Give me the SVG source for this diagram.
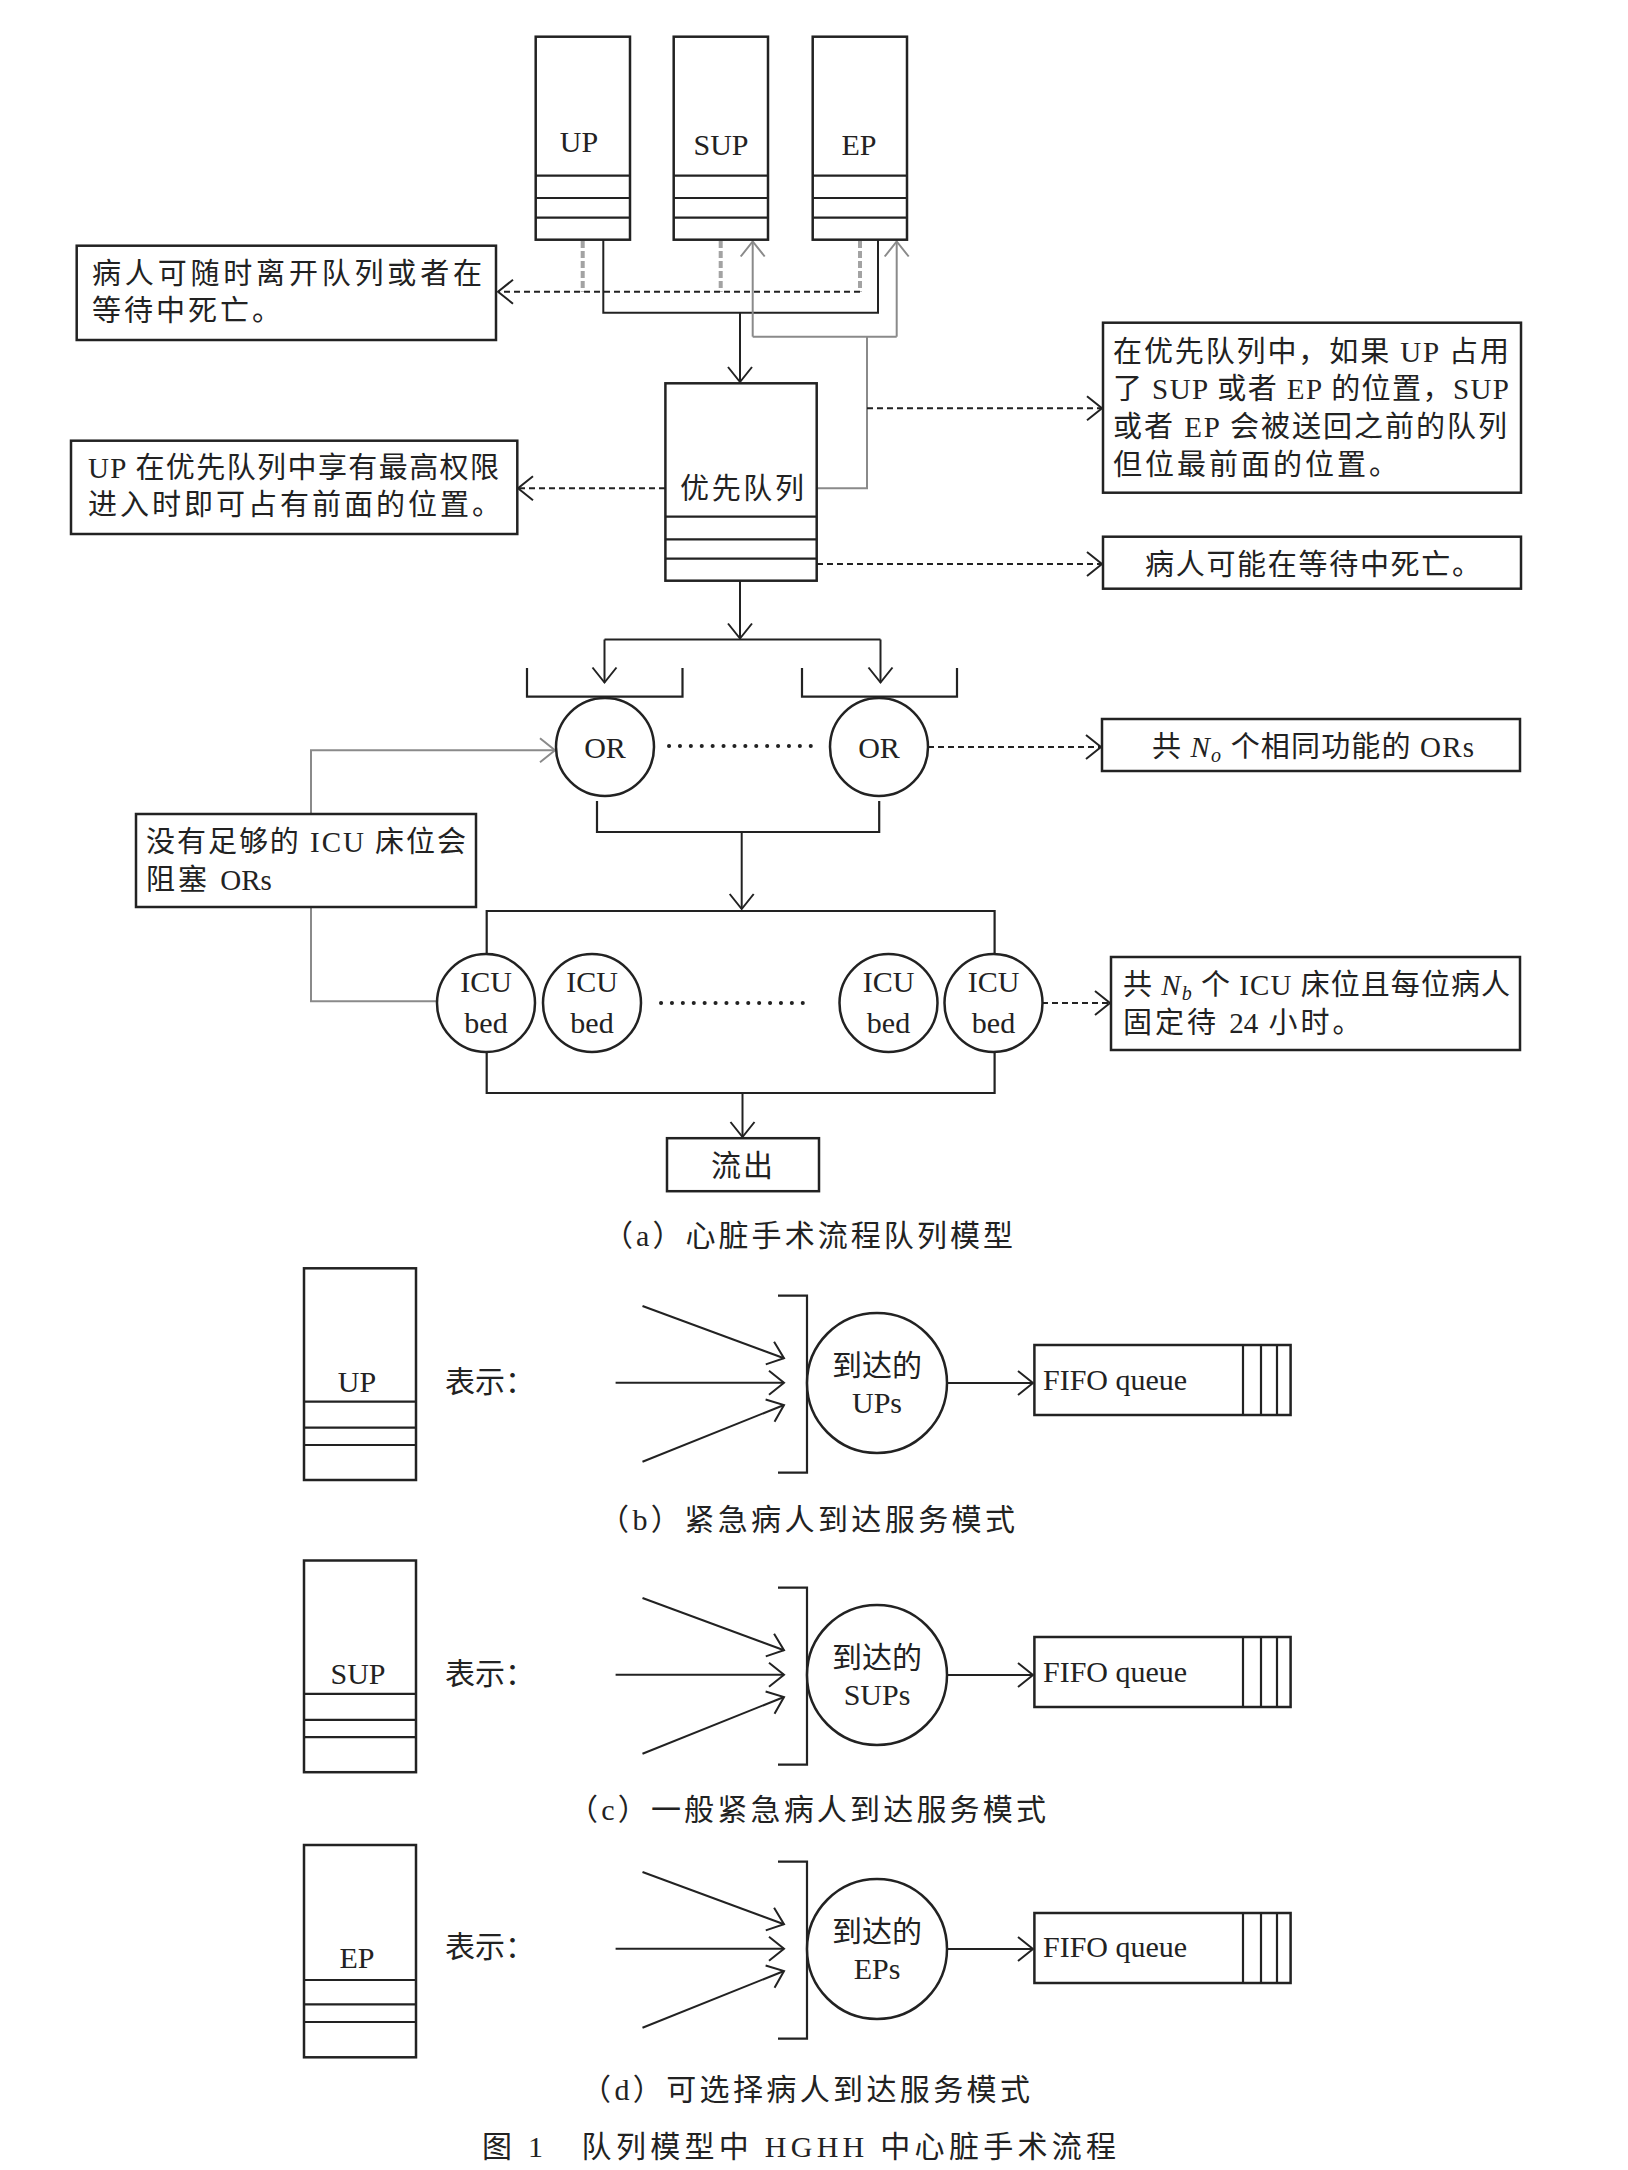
<svg xmlns="http://www.w3.org/2000/svg" width="1628" height="2170" viewBox="0 0 1628 2170">
<style>
text{font-family:'Liberation Serif','Noto Sans CJK SC',serif;fill:#222;}
.t{font-size:29px;letter-spacing:3px;}
.tl{font-size:29px;}
.n{font-size:30px;text-anchor:middle;}
.c{font-size:30px;}
.box{fill:#fff;stroke:#222;stroke-width:2.5;}
.ln{fill:none;stroke:#222;stroke-width:2.2;}
.sl{fill:none;stroke:#222;stroke-width:2;}
.ds{fill:none;stroke:#222;stroke-width:2;stroke-dasharray:6 4;}
.gd{fill:none;stroke:#a3a3a3;stroke-width:4;stroke-dasharray:7 3;}
.gs{fill:none;stroke:#8a8a8a;stroke-width:2;}
.dot{fill:none;stroke:#222;stroke-width:4;stroke-linecap:round;stroke-dasharray:0.1 10.8;}
.lat{letter-spacing:0;}
</style>
<defs>
<marker id="ah" viewBox="-17 -14 19 28" refX="0" refY="0" markerWidth="19" markerHeight="28" markerUnits="userSpaceOnUse" orient="auto"><path d="M-15,-12 L0,0 L-15,12" fill="none" stroke="#222" stroke-width="2"/></marker>
<marker id="ahg" viewBox="-17 -14 19 28" refX="0" refY="0" markerWidth="19" markerHeight="28" markerUnits="userSpaceOnUse" orient="auto"><path d="M-15,-12 L0,0 L-15,12" fill="none" stroke="#8a8a8a" stroke-width="2"/></marker>
</defs>

<!-- connectors -->
<g id="connectors">
  <path class="gd" d="M582.7 241V291.7M720.7 241V291.7M860 241V291.7"/>
  <path class="ds" d="M860 291.7H498" marker-end="url(#ah)"/>
  <path class="sl" d="M603.3 240V312.7H878V240"/>
  <path class="sl" d="M740 312.7V382" marker-end="url(#ah)"/>
  <path class="gs" d="M817 488.3H867V336.7"/>
  <path class="gs" d="M752.7 336.7H896.7"/>
  <path class="gs" d="M752.7 336.7V241.5" marker-end="url(#ahg)"/>
  <path class="gs" d="M896.7 336.7V241.5" marker-end="url(#ahg)"/>
  <path class="ds" d="M867 408.3H1102" marker-end="url(#ah)"/>
  <path class="ds" d="M665 488.3H518" marker-end="url(#ah)"/>
  <path class="ds" d="M817 564H1102" marker-end="url(#ah)"/>
  <path class="sl" d="M740 581V638.5" marker-end="url(#ah)"/>
  <path class="sl" d="M604.5 639.5H880.5"/>
  <path class="sl" d="M604.5 639.5V682.5" marker-end="url(#ah)"/>
  <path class="sl" d="M880.5 639.5V682.5" marker-end="url(#ah)"/>
  <path class="ln" d="M527 668V696.7H682.5V668"/>
  <path class="ln" d="M802 668V696.7H957V668"/>
  <path class="dot" d="M669 746H815"/>
  <path class="ds" d="M928 747H1101" marker-end="url(#ah)"/>
  <path class="ln" d="M597 801V832H879.2V801"/>
  <path class="sl" d="M741.7 832V909" marker-end="url(#ah)"/>
  <path class="ln" d="M486.7 953V911H994.6V953"/>
  <path class="dot" d="M661 1003H806"/>
  <path class="ds" d="M1042 1003H1110" marker-end="url(#ah)"/>
  <path class="ln" d="M486.7 1053V1093H994.6V1053"/>
  <path class="sl" d="M742.5 1093V1137" marker-end="url(#ah)"/>
  <path class="gs" d="M311 813V750.2H555" marker-end="url(#ahg)"/>
  <path class="gs" d="M311 907V1001.3H437.5"/>
</g>

<g id="queue-UP">
  <rect class="box" x="535.7" y="36.7" width="94.3" height="203"/>
  <path class="ln" d="M535.7 175.7H630M535.7 198H630M535.7 217.7H630"/>
  <text class="n" x="579" y="152">UP</text>
</g>
<g id="queue-SUP">
  <rect class="box" x="673.7" y="36.7" width="94.3" height="203"/>
  <path class="ln" d="M673.7 175.7H768M673.7 198H768M673.7 217.7H768"/>
  <text class="n" x="721" y="155">SUP</text>
</g>
<g id="queue-EP">
  <rect class="box" x="812.7" y="36.7" width="94.3" height="203"/>
  <path class="ln" d="M812.7 175.7H907M812.7 198H907M812.7 217.7H907"/>
  <text class="n" x="859" y="155">EP</text>
</g>

<g id="note-leave">
  <rect class="box" x="76.7" y="245.7" width="419.3" height="94.3"/>
  <text class="tl" x="92" y="284" textLength="390" lengthAdjust="spacing">病人可随时离开队列或者在</text>
  <text class="t" x="92" y="321">等待中死亡。</text>
</g>

<g id="priority-queue">
  <rect class="box" x="665.4" y="383.3" width="151.3" height="197.4"/>
  <path class="ln" d="M665.4 516.7H816.7M665.4 539.3H816.7M665.4 558.7H816.7"/>
  <text class="tl" x="680" y="499" textLength="124" lengthAdjust="spacing">优先队列</text>
</g>

<g id="note-up-priority">
  <rect class="box" x="71" y="440.7" width="446.3" height="93.3"/>
  <text class="tl" x="88" y="478" textLength="411" lengthAdjust="spacing">UP 在优先队列中享有最高权限</text>
  <text class="t" x="88" y="515">进入时即可占有前面的位置。</text>
</g>

<g id="note-return">
  <rect class="box" x="1103" y="322.7" width="418" height="170"/>
  <text class="tl" x="1113" y="362" textLength="396" lengthAdjust="spacing">在优先队列中，如果 UP 占用</text>
  <text class="tl" x="1113" y="399" textLength="396" lengthAdjust="spacing">了 SUP 或者 EP 的位置，SUP</text>
  <text class="tl" x="1113" y="437" textLength="394" lengthAdjust="spacing">或者 EP 会被送回之前的队列</text>
  <text class="t" x="1113" y="475">但位最前面的位置。</text>
</g>

<g id="note-die">
  <rect class="box" x="1103" y="536.7" width="418" height="52"/>
  <text class="tl" x="1145" y="575" textLength="336" lengthAdjust="spacing">病人可能在等待中死亡。</text>
</g>

<g id="OR-1">
  <circle class="box" cx="605" cy="747" r="49"/>
  <text class="n" x="605" y="757.5">OR</text>
</g>
<g id="OR-2">
  <circle class="box" cx="879" cy="747" r="49"/>
  <text class="n" x="879" y="757.5">OR</text>
</g>

<g id="note-ORs">
  <rect class="box" x="1102" y="719" width="418" height="52"/>
  <text class="tl" x="1152" y="757" textLength="322" lengthAdjust="spacing">共 <tspan font-style="italic">N</tspan><tspan font-style="italic" font-size="20" dy="5">o</tspan><tspan dy="-5"> 个相同功能的 ORs</tspan></text>
</g>

<g id="note-block">
  <rect class="box" x="136" y="814" width="340" height="93"/>
  <text class="tl" x="146" y="852" textLength="320" lengthAdjust="spacing">没有足够的 ICU 床位会</text>
  <text class="t" x="146" y="890">阻塞 <tspan class="lat">ORs</tspan></text>
</g>

<g id="ICU-1">
  <circle class="box" cx="486" cy="1003" r="49"/>
  <text class="n" x="486" y="992">ICU</text><text class="n" x="486" y="1033">bed</text>
</g>
<g id="ICU-2">
  <circle class="box" cx="592" cy="1003" r="49"/>
  <text class="n" x="592" y="992">ICU</text><text class="n" x="592" y="1033">bed</text>
</g>
<g id="ICU-3">
  <circle class="box" cx="888.5" cy="1003" r="49"/>
  <text class="n" x="888.5" y="992">ICU</text><text class="n" x="888.5" y="1033">bed</text>
</g>
<g id="ICU-4">
  <circle class="box" cx="993.5" cy="1003" r="49"/>
  <text class="n" x="993.5" y="992">ICU</text><text class="n" x="993.5" y="1033">bed</text>
</g>

<g id="note-ICU">
  <rect class="box" x="1111" y="957" width="409" height="93"/>
  <text class="tl" x="1123" y="995" textLength="387" lengthAdjust="spacing">共 <tspan font-style="italic">N</tspan><tspan font-style="italic" font-size="20" dy="5">b</tspan><tspan dy="-5"> 个 ICU 床位且每位病人</tspan></text>
  <text class="t" x="1123" y="1033">固定待 <tspan class="lat">24</tspan> 小时。</text>
</g>

<g id="outflow">
  <rect class="box" x="667" y="1138.2" width="152" height="53"/>
  <text class="n" x="743" y="1176" style="letter-spacing:2px">流出</text>
</g>

<text id="caption-a" class="c" x="603" y="1246" textLength="410" lengthAdjust="spacing">（a）心脏手术流程队列模型</text>

<g id="legend-UP">
  <rect class="box" x="304" y="1268.3" width="112" height="211.7"/>
  <path class="ln" d="M304 1401.7H416M304 1427.7H416M304 1445H416"/>
  <text class="n" x="357" y="1392">UP</text>
</g>
<g id="arrival-UP">
  <text class="c" x="445" y="1392">表示：</text>
  <path class="sl" d="M642.5 1306L784 1358.3" marker-end="url(#ah)"/>
  <path class="sl" d="M615.6 1382.7H784" marker-end="url(#ah)"/>
  <path class="sl" d="M642.5 1461.7L784 1405" marker-end="url(#ah)"/>
  <path class="ln" d="M778 1295.7H807V1472.7H778"/>
  <circle class="box" cx="877" cy="1383" r="70"/>
  <text class="c" x="877" y="1376" text-anchor="middle">到达的</text>
  <text class="n" x="877" y="1413">UPs</text>
  <path class="sl" d="M947 1383H1033" marker-end="url(#ah)"/>
  <rect class="box" x="1034.4" y="1345" width="256.2" height="70"/>
  <path class="ln" d="M1243 1345V1415M1261 1345V1415M1277 1345V1415"/>
  <text x="1043" y="1390" style="font-size:30px">FIFO queue</text>
</g>
<text id="caption-b" class="c" x="599" y="1530" textLength="416" lengthAdjust="spacing">（b）紧急病人到达服务模式</text>

<g id="legend-SUP">
  <rect class="box" x="304" y="1560.5" width="112" height="211.7"/>
  <path class="ln" d="M304 1693.9H416M304 1719.9H416M304 1737.2H416"/>
  <text class="n" x="358" y="1684">SUP</text>
</g>
<g id="arrival-SUP" transform="translate(0,292)">
  <text class="c" x="445" y="1392">表示：</text>
  <path class="sl" d="M642.5 1306L784 1358.3" marker-end="url(#ah)"/>
  <path class="sl" d="M615.6 1382.7H784" marker-end="url(#ah)"/>
  <path class="sl" d="M642.5 1461.7L784 1405" marker-end="url(#ah)"/>
  <path class="ln" d="M778 1295.7H807V1472.7H778"/>
  <circle class="box" cx="877" cy="1383" r="70"/>
  <text class="c" x="877" y="1376" text-anchor="middle">到达的</text>
  <text class="n" x="877" y="1413">SUPs</text>
  <path class="sl" d="M947 1383H1033" marker-end="url(#ah)"/>
  <rect class="box" x="1034.4" y="1345" width="256.2" height="70"/>
  <path class="ln" d="M1243 1345V1415M1261 1345V1415M1277 1345V1415"/>
  <text x="1043" y="1390" style="font-size:30px">FIFO queue</text>
</g>
<text id="caption-c" class="c" x="568" y="1820" textLength="478" lengthAdjust="spacing">（c）一般紧急病人到达服务模式</text>

<g id="legend-EP">
  <rect class="box" x="304" y="1845" width="112" height="212.3"/>
  <path class="ln" d="M304 1980H416M304 2004.3H416M304 2022H416"/>
  <text class="n" x="357" y="1968.3">EP</text>
</g>
<g id="arrival-EP" transform="translate(0,566)">
  <text class="c" x="445" y="1391">表示：</text>
  <path class="sl" d="M642.5 1306L784 1358.3" marker-end="url(#ah)"/>
  <path class="sl" d="M615.6 1382.7H784" marker-end="url(#ah)"/>
  <path class="sl" d="M642.5 1461.7L784 1405" marker-end="url(#ah)"/>
  <path class="ln" d="M778 1295.7H807V1472.7H778"/>
  <circle class="box" cx="877" cy="1383" r="70"/>
  <text class="c" x="877" y="1376" text-anchor="middle">到达的</text>
  <text class="n" x="877" y="1413">EPs</text>
  <path class="sl" d="M947 1383H1033" marker-end="url(#ah)"/>
  <rect class="box" x="1034.4" y="1347" width="256.2" height="70"/>
  <path class="ln" d="M1243 1347V1417M1261 1347V1417M1277 1347V1417"/>
  <text x="1043" y="1391" style="font-size:30px">FIFO queue</text>
</g>
<text id="caption-d" class="c" x="581" y="2100" textLength="449" lengthAdjust="spacing">（d）可选择病人到达服务模式</text>

<text id="title" class="c" x="482" y="2157" textLength="634" lengthAdjust="spacing">图 1　队列模型中 HGHH 中心脏手术流程</text>
</svg>
